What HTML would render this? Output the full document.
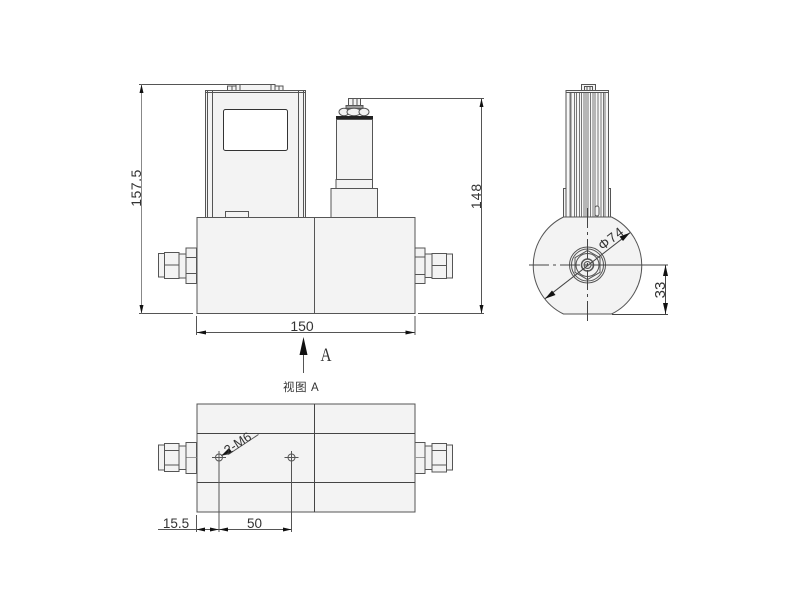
<!DOCTYPE html>
<html>
<head>
<meta charset="utf-8">
<style>
html,body{margin:0;padding:0;background:#fff;}
svg{display:block;}
text{font-family:"Liberation Sans","Noto Sans CJK SC",sans-serif;fill:#333;}
</style>
</head>
<body>
<svg width="800" height="600" viewBox="0 0 800 600" xmlns="http://www.w3.org/2000/svg">
<rect width="800" height="600" fill="#fff"/>

<!-- FRONT VIEW -->
<g fill="#f3f3f3" stroke="#555" stroke-width="1">
  <!-- display housing -->
  <rect x="227.5" y="86" width="8.5" height="4.5"/>
  <rect x="275" y="86" width="8" height="4.5"/>
  <rect x="236" y="84.5" width="39" height="6"/>
  <rect x="205.5" y="90.5" width="100" height="127"/>
  <path d="M207.5 91V217M212.5 91V217M298.5 91V217M303.5 91V217M205.5 92.5H305.5M240 84.5V90.5M271 84.5V90.5M232 86V90.5M279 86V90.5" fill="none"/>
  <rect x="223.5" y="109.5" width="64" height="41" rx="2" fill="#fff" stroke="#333"/>
  <rect x="225.5" y="211.5" width="23" height="6"/>
  <!-- sensor -->
  <rect x="348.5" y="98.5" width="12" height="7.5"/>
  <path d="M353 98.5V106M357 98.5V106" fill="none"/>
  <rect x="346" y="105.5" width="17" height="3" fill="#999"/>
  <ellipse cx="344" cy="112" rx="5" ry="3.8"/>
  <ellipse cx="354" cy="112" rx="7" ry="3.8"/>
  <ellipse cx="364" cy="112" rx="5" ry="3.8"/>
  <rect x="336.5" y="116.5" width="36" height="3" fill="#222" stroke="#222"/>
  <rect x="336.5" y="119.5" width="36" height="60"/>
  <rect x="336" y="179.5" width="36.5" height="9"/>
  <rect x="331" y="188.5" width="46.5" height="29"/>
  <!-- main block -->
  <rect x="197" y="217.5" width="218" height="96"/>
  <path d="M314.5 217.5V313.5" fill="none"/>
  <!-- left fitting -->
  <rect x="186" y="248" width="10.5" height="35.5"/>
  <path d="M186 257.5H196.5M186 273.5H196.5" fill="none"/>
  <rect x="179" y="254" width="7" height="24"/>
  <rect x="164.5" y="252.5" width="14.5" height="26"/>
  <path d="M164.5 265H179" fill="none"/>
  <rect x="158.5" y="253.5" width="6" height="23.5"/>
  <!-- right fitting -->
  <rect x="415" y="248" width="10" height="35.5"/>
  <path d="M415 257H425M415 274.5H425" fill="none"/>
  <rect x="425" y="254" width="7" height="23.5"/>
  <rect x="432" y="253.5" width="14.5" height="25"/>
  <path d="M432 265.5H446.5" fill="none"/>
  <rect x="446.5" y="254" width="6" height="24"/>
</g>

<!-- SIDE VIEW -->
<g fill="#f3f3f3" stroke="#555" stroke-width="1">
  <path d="M563.5 217 A54 54 0 0 0 563.5 314 H611.5 A54 54 0 0 0 611.5 217Z"/>
  <rect x="581.5" y="84.5" width="14" height="6"/>
  <rect x="584.5" y="86.5" width="8" height="4" fill="none"/>
  <path d="M587 86.5V90.5M590 86.5V90.5" fill="none"/>
  <rect x="563.5" y="188.5" width="47" height="28.5"/>
  <rect x="566" y="90.5" width="42.5" height="126.5" fill="#f7f7f7"/>
  <path d="M566 92.5H608.5" fill="none"/>
  <g fill="none" stroke-width="0.8">
    <path d="M570 92V217M571 92V217M574.5 92V217M576.5 92V217M579.5 92V217M581.5 92V217M584 92V217M586 92V217M588 92V217M590.5 92V217M593 92V217M595 92V217M598 92V217M601 92V217M603.5 92V217M605 92V217"/>
  </g>
  <rect x="595" y="206" width="4" height="10" rx="2" fill="#f3f3f3"/>
  <!-- fitting end view -->
  <circle cx="587.5" cy="265" r="18"/>
  <circle cx="587.5" cy="265" r="16" fill="none"/>
  <polygon points="587.5,250.5 600,257.7 600,272.3 587.5,279.5 575,272.3 575,257.7" fill="none"/>
  <circle cx="587.5" cy="265" r="11.5" fill="none"/>
  <circle cx="587.5" cy="265" r="6" stroke-width="1.5" fill="none"/>
  <circle cx="587.5" cy="265" r="3.5" fill="#ddd"/>
</g>
<g fill="none" stroke="#444" stroke-width="1">
  <path d="M529 265H645" stroke-dasharray="20 4 3 4"/>
  <path d="M587.5 208V324" stroke-dasharray="20 4 3 4"/>
  <path d="M545 298.7L630 232.7"/>
  <path d="M605 265H668M612 314.5H668M665.5 265V314"/>
</g>
<polygon points="545,298.7 552,290.5 555.5,295" fill="#111"/>
<polygon points="630,232.7 623,241 619.5,236.5" fill="#111"/>
<polygon points="665.5,265 663,276 668,276" fill="#111"/>
<polygon points="665.5,314 663,303 668,303" fill="#111"/>
<text x="0" y="0" font-size="13.5" text-anchor="middle" transform="translate(614,242) rotate(-38)" letter-spacing="1">Φ74</text>
<text x="0" y="0" font-size="15" text-anchor="middle" transform="translate(665,290) rotate(-90)">33</text>

<!-- DIMENSIONS FRONT -->
<g fill="none" stroke="#555" stroke-width="1">
  <path d="M139 84.5H236M139 313.5H193"/>
  <path d="M141.5 84.5V313.5" stroke="#888"/>
  <path d="M360 98.5H484M418 313.5H484M481.5 98.5V313.5"/>
  <path d="M196.5 316V335M415 316V335M196.5 332.5H415"/>
  <path d="M303.5 350V373"/>
</g>
<polygon points="141.5,84.5 139.5,93 143.5,93" fill="#111"/>
<polygon points="141.5,313.5 139.5,305 143.5,305" fill="#111"/>
<polygon points="481.5,98.5 479.5,107 483.5,107" fill="#111"/>
<polygon points="481.5,313.5 479.5,305 483.5,305" fill="#111"/>
<polygon points="196.5,332.5 206,330.5 206,334.5" fill="#111"/>
<polygon points="415,332.5 405.5,330.5 405.5,334.5" fill="#111"/>
<polygon points="303.5,337 299.5,355 307.5,355" fill="#111"/>
<text font-size="14" text-anchor="middle" transform="translate(141,188) rotate(-90)" letter-spacing="0.5">157.5</text>
<text font-size="14" text-anchor="middle" transform="translate(481,196) rotate(-90)" letter-spacing="1">148</text>
<text x="302" y="331" font-size="14" text-anchor="middle">150</text>
<text x="326" y="361" font-size="19" text-anchor="middle" style="font-family:'Liberation Serif',serif" textLength="11" lengthAdjust="spacingAndGlyphs">A</text>
<text x="283" y="391" font-size="11.5" letter-spacing="0.6">视图 A</text>

<!-- BOTTOM VIEW -->
<g fill="#f3f3f3" stroke="#555" stroke-width="1">
  <rect x="197" y="404" width="218" height="108"/>
  <path d="M197 433.5H415M197 482.5H415M314.5 404V512" fill="none" stroke="#444"/>
  <rect x="186" y="442.5" width="10.5" height="31"/>
  <path d="M186 457.5H196.5" fill="none" stroke="#999"/>
  <rect x="179" y="446" width="7" height="23.5"/>
  <rect x="164.5" y="443.5" width="14.5" height="28"/>
  <path d="M164.5 450.5H179M164.5 465H179" fill="none"/>
  <rect x="158.5" y="445" width="6" height="25"/>
  <rect x="415" y="442.5" width="10" height="31"/>
  <path d="M415 457.5H425" fill="none" stroke="#999"/>
  <rect x="425" y="446" width="7" height="23.5"/>
  <rect x="432" y="443.5" width="14.5" height="28.5"/>
  <path d="M432 450.5H446.5M432 465H446.5" fill="none"/>
  <rect x="446.5" y="445" width="6" height="25"/>
</g>
<g fill="none" stroke="#555" stroke-width="1">
  <circle cx="219" cy="457.5" r="3.5"/>
  <circle cx="291.5" cy="457.5" r="3.5"/>
  <path d="M212 457.5H226M219 451V464M284.5 457.5H298.5M291.5 451V464"/>
  <path d="M222 455L229 454L258.5 434.5"/>
  <path d="M196.5 515V532M219 462V532M291.5 462V532M158 529.5H291.5"/>
</g>
<polygon points="221,456 229,448 232,452" fill="#111"/>
<polygon points="196.5,529.5 205,527.5 205,531.5" fill="#111"/>
<polygon points="219,529.5 210,527.5 210,531.5" fill="#111"/>
<polygon points="219,529.5 228,527.5 228,531.5" fill="#111"/>
<polygon points="291.5,529.5 283,527.5 283,531.5" fill="#111"/>
<text font-size="13" text-anchor="middle" transform="translate(240,447) rotate(-33)">2-M6</text>
<text x="176" y="528" font-size="13.5" text-anchor="middle">15.5</text>
<text x="254.5" y="528" font-size="13.5" text-anchor="middle">50</text>
</svg>
</body>
</html>
